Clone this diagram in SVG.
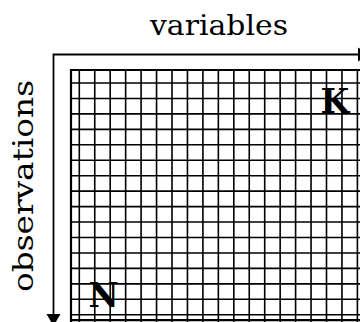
<svg xmlns="http://www.w3.org/2000/svg" width="360" height="322" viewBox="0 0 360 322">
<style>
.lbl{font-family:"DejaVu Serif","Liberation Serif",serif;font-size:28px;fill:#000}
.big{font-family:"DejaVu Serif","Liberation Serif",serif;font-size:33px;font-weight:bold;fill:#000}
.grid{stroke:#000;stroke-width:1.6;fill:none}
.border{stroke:#000;stroke-width:2.2;fill:none}
.axis{stroke:#000;stroke-width:1.8;fill:none}
</style>
<rect width="360" height="322" fill="#fff"/>
<g id="grid">
<path class="grid" d="M79.3 70V322M94.75 70V322M110.2 70V322M125.65 70V322M141.1 70V322M156.55 70V322M172 70V322M187.45 70V322M202.9 70V322M218.35 70V322M233.8 70V322M249.25 70V322M264.7 70V322M280.15 70V322M295.6 70V322M311.05 70V322M326.5 70V322M341.95 70V322M357.4 70V322"/>
<path class="grid" d="M71 83H360M71 98.45H360M71 113.9H360M71 129.35H360M71 144.8H360M71 160.25H360M71 175.7H360M71 191.15H360M71 206.6H360M71 222.05H360M71 237.5H360M71 252.95H360M71 268.4H360M71 283.85H360M71 299.3H360M71 314.75H360"/>
<path class="border" d="M71 322V70H360M71 320.2H360"/>
</g>
<g id="axes">
<path class="axis" d="M53.5 316V54.5H359"/>
<polygon points="46.5,314 60.5,314 53.5,326" fill="#000"/>
<polygon points="358,47.5 358,61.5 370,54.5" fill="#000"/>
</g>
<text class="lbl" x="150" y="35" textLength="138" lengthAdjust="spacingAndGlyphs">variables</text>
<text class="lbl" transform="translate(33,292) rotate(-90)" textLength="212" lengthAdjust="spacingAndGlyphs">observations</text>
<text class="big" x="320.5" y="112.5">K</text>
<text class="big" x="88.5" y="307">N</text>
</svg>
